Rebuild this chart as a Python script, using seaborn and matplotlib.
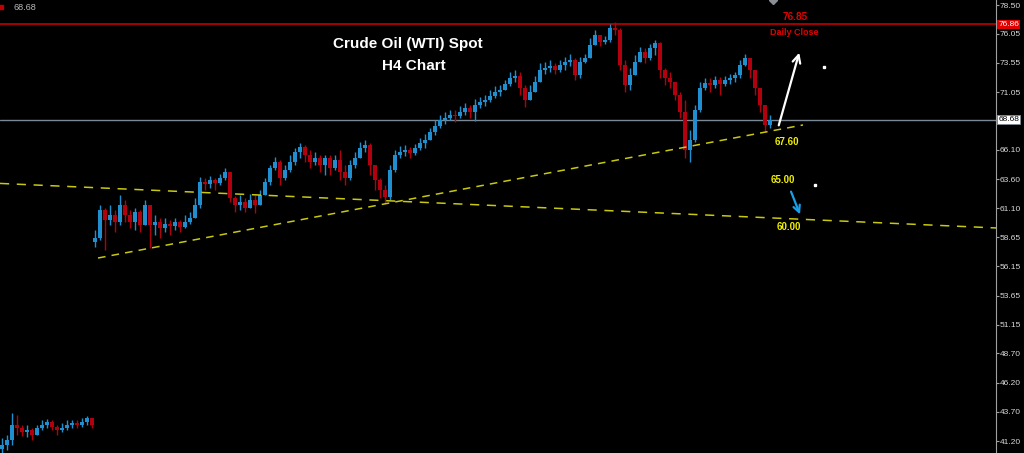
import numpy as np
import pandas as pd
import matplotlib
matplotlib.use("Agg")
import matplotlib.pyplot as plt
import seaborn as sns

# ---------------- data ----------------
main_open0 = 58.20
main_close = [58.57, 60.96, 60.11, 60.54, 59.94, 61.39, 60.54, 59.94, 60.79, 59.68,
              61.39, 59.68, 59.94, 59.43, 59.77, 59.60, 59.94, 59.51, 59.94, 60.28,
              61.39, 63.36, 63.19, 63.53, 63.27, 63.70, 64.22, 61.99, 61.39, 61.65,
              61.14, 61.82, 61.39, 62.25, 63.36, 64.56, 65.07, 63.70, 64.39, 65.07,
              65.93, 66.35, 65.67, 65.07, 65.41, 64.81, 65.41, 64.56, 65.24, 64.22,
              63.70, 64.81, 65.41, 66.27, 66.53, 64.81, 63.53, 62.68, 62.08, 64.39,
              65.67, 65.93, 66.10, 65.84, 66.27, 66.70, 66.95, 67.64, 68.15, 68.66,
              68.84, 69.09, 69.01, 69.35, 69.69, 69.35, 69.95, 70.20, 70.37, 70.72,
              71.06, 71.23, 71.74, 72.26, 72.43, 71.40, 70.37, 71.06, 71.92, 72.94,
              73.11, 73.28, 72.94, 73.37, 73.63, 73.80, 72.51, 73.63, 73.97, 75.08,
              75.94, 75.34, 75.51, 76.53, 76.36, 73.37, 71.66, 72.51, 73.63, 74.48,
              73.97, 74.82, 75.25, 72.94, 72.26, 71.92, 70.80, 69.35, 66.10, 66.95,
              69.52, 71.40, 71.83, 71.66, 72.09, 71.74, 72.09, 72.26, 72.51, 73.37,
              73.97, 72.94, 71.40, 69.95, 68.24, 68.66]
main_high = [59.25, 61.39, 61.14, 61.39, 60.96, 62.25, 61.82, 60.96, 61.14, 60.96,
             61.82, 61.39, 60.54, 60.28, 60.28, 60.11, 60.28, 60.11, 60.54, 60.79,
             61.99, 63.79, 63.70, 63.87, 63.70, 64.04, 64.56, 63.96, 62.16, 62.25,
             61.99, 62.33, 62.25, 62.68, 63.70, 64.81, 65.50, 65.24, 64.81, 65.67,
             66.27, 66.70, 66.53, 66.10, 65.93, 65.67, 65.67, 65.67, 65.67, 66.10,
             64.81, 65.24, 65.93, 66.78, 66.95, 66.70, 64.81, 63.70, 63.10, 64.81,
             66.10, 66.44, 66.53, 66.35, 66.61, 67.12, 67.47, 67.98, 68.66, 69.09,
             69.35, 69.52, 69.52, 69.86, 70.12, 69.95, 70.46, 70.63, 70.80, 71.23,
             71.57, 71.66, 72.09, 72.77, 72.94, 72.77, 71.66, 71.66, 72.43, 73.54,
             73.63, 73.80, 73.54, 73.80, 74.05, 74.31, 73.97, 74.05, 74.31, 75.68,
             76.36, 75.85, 75.85, 76.88, 77.05, 76.53, 73.80, 73.11, 74.22, 74.91,
             74.82, 75.17, 75.51, 75.34, 73.11, 72.77, 71.66, 71.06, 70.37, 67.81,
             69.95, 71.92, 72.26, 72.26, 72.43, 72.34, 72.43, 72.60, 72.77, 73.80,
             74.31, 73.97, 72.94, 71.40, 69.69, 69.09]
main_low = [57.80, 58.40, 57.54, 59.68, 59.08, 59.68, 59.94, 59.43, 59.25, 59.08,
            59.68, 57.71, 58.83, 58.57, 59.08, 58.83, 59.25, 59.08, 59.43, 59.77,
            60.54, 61.14, 62.68, 62.85, 62.68, 63.10, 63.53, 61.65, 60.79, 60.96,
            60.79, 61.31, 60.71, 61.82, 62.50, 63.10, 64.39, 63.10, 63.53, 64.22,
            64.81, 65.41, 65.07, 64.56, 64.81, 64.22, 63.96, 63.96, 64.39, 63.53,
            63.10, 63.53, 64.56, 65.41, 65.93, 63.96, 62.68, 61.99, 61.56, 61.82,
            64.22, 65.41, 65.58, 65.41, 65.67, 66.10, 66.27, 66.95, 67.38, 67.98,
            68.32, 68.66, 68.49, 68.84, 69.09, 68.84, 68.58, 69.69, 69.86, 70.20,
            70.55, 70.72, 71.23, 71.57, 71.92, 70.80, 69.78, 70.37, 71.23, 72.26,
            72.60, 72.77, 72.60, 72.77, 72.94, 73.28, 72.09, 72.26, 73.54, 73.97,
            75.08, 75.00, 75.17, 75.34, 75.94, 72.94, 71.06, 71.23, 72.77, 73.63,
            73.54, 73.80, 74.22, 72.26, 71.66, 71.40, 70.37, 68.84, 65.41, 65.07,
            66.78, 69.35, 71.23, 71.06, 71.40, 70.80, 71.57, 71.74, 71.92, 72.26,
            73.28, 72.26, 70.80, 69.35, 67.64, 67.98]

mini_open0 = 40.50
mini_close = [40.86, 41.29, 42.57, 42.31, 41.97, 42.14, 41.71, 42.31, 42.57, 42.83,
              42.40, 42.14, 42.31, 42.57, 42.74, 42.57, 42.83, 43.17, 42.57]
mini_high = [41.46, 41.71, 43.60, 43.43, 42.57, 42.57, 42.31, 42.57, 43.00, 43.08,
             43.00, 42.57, 42.74, 43.00, 43.00, 43.00, 43.17, 43.34, 43.17]
mini_low = [40.17, 40.43, 40.86, 41.71, 41.63, 41.54, 41.29, 41.97, 42.14, 42.31,
            42.14, 41.71, 41.97, 42.14, 42.31, 42.31, 42.40, 42.57, 42.31]

y_ticks = [78.50, 76.05, 73.55, 71.05, 66.10, 63.60, 61.10, 58.65, 56.15,
           53.65, 51.15, 48.70, 46.20, 43.70, 41.20]
daily_close_level = 76.86
current_price = 68.68

trend_up_x = [19.6, 160.6]
trend_up_y = [56.86, 68.24]
trend_down_x = [0.0, 199.2]
trend_down_y = [63.24, 59.43]

# ---------------- style ----------------
sns.set_theme(style="dark", rc={
    "axes.facecolor": "black", "figure.facecolor": "black",
    "axes.grid": False, "axes.edgecolor": "#a0a0a0",
})
plt.rcParams["font.family"] = ["Liberation Sans", "DejaVu Sans"]

BULL = "#1f8fcf"
BEAR = "#b3000f"
YEL = "#c8c810"

fig = plt.figure(figsize=(10.24, 4.53), dpi=100)
ax = fig.add_axes([0, 0, 996 / 1024, 1])
ax.set_facecolor("black")


def draw_candles(ax, pos, open0, close, high, low, width=0.62):
    close = np.asarray(close)
    opens = np.concatenate([[open0], close[:-1]])
    high = np.maximum(np.asarray(high), np.maximum(opens, close))
    low = np.minimum(np.asarray(low), np.minimum(opens, close))
    cols = [BULL if c >= o else BEAR for o, c in zip(opens, close)]
    ax.vlines(pos, low, high, colors=cols, lw=1.0, zorder=3)
    bottoms = np.minimum(opens, close)
    heights = np.maximum(np.abs(close - opens), 0.06)
    ax.bar(pos, heights, bottom=bottoms, width=width, color=cols,
           linewidth=0, zorder=4)


main_pos = 19 + np.arange(len(main_close))
mini_pos = 0.4 + np.arange(len(mini_close))
draw_candles(ax, main_pos, main_open0, main_close, main_high, main_low)
draw_candles(ax, mini_pos, mini_open0, mini_close, mini_high, mini_low)

# horizontal levels
ax.axhline(daily_close_level, color="#c00000", lw=1.2, zorder=2)
ax.axhline(current_price, color="#7c8894", lw=1.0, zorder=2)

# trend lines
tl = pd.DataFrame({"x": trend_up_x, "y": trend_up_y})
td = pd.DataFrame({"x": trend_down_x, "y": trend_down_y})
sns.lineplot(data=tl, x="x", y="y", ax=ax, color=YEL, lw=1.1,
             linestyle=(0, (5, 4)), zorder=5)
sns.lineplot(data=td, x="x", y="y", ax=ax, color=YEL, lw=1.1,
             linestyle=(0, (6, 5)), zorder=5)
ax.set_xlabel("")
ax.set_ylabel("")

# arrows
ax.annotate("", xy=(160.0, 74.65), xytext=(155.6, 67.98),
            arrowprops=dict(arrowstyle="->", color="white", lw=1.6,
                            mutation_scale=14), zorder=6)
ax.annotate("", xy=(160.2, 60.37), xytext=(158.0, 62.76),
            arrowprops=dict(arrowstyle="->", color="#1aa0e8", lw=1.6,
                            mutation_scale=12), zorder=6)

# small dots
ax.plot([164.8, 163.0], [73.20, 63.10], ls="none", marker="s", ms=2,
        color="white", zorder=6)
ax.plot([154.6], [78.93], ls="none", marker="D", ms=4.5, color="#8a8f96",
        clip_on=True, zorder=6)

# texts
ax.text(81.5, 75.17, "Crude Oil (WTI) Spot", color="white", fontsize=11,
        fontweight="bold", ha="center", va="center")
ax.text(82.8, 73.28, "H4 Chart", color="white", fontsize=11,
        fontweight="bold", ha="center", va="center")
ax.text(159.0, 77.48, "76.85", color="#e00000", fontsize=7.2,
        fontweight="bold", ha="center", va="center")
ax.text(158.8, 76.19, "Daily Close", color="#e00000", fontsize=6.5,
        fontweight="bold", ha="center", va="center")
for xv, yv, s in [(157.4, 66.78, "67.60"), (156.6, 63.53, "65.00"),
                  (157.8, 59.51, "60.00")]:
    ax.text(xv, yv, s, color="#f0f000", fontsize=7, fontweight="bold",
            ha="center", va="center")

ax.text(0.014, 0.984, "68.68", color="#b8b8b8", fontsize=6.6,
        transform=ax.transAxes, ha="left", va="center")
ax.plot([0.0015], [0.984], marker="s", ms=2.5, color="#c00000",
        transform=ax.transAxes, clip_on=False)

# axes
ax.set_xlim(0, 199.2)
ax.set_ylim(40.18, 78.93)
ax.set_xticks([])
ax.yaxis.tick_right()
ax.set_yticks(y_ticks)
ax.set_yticklabels([f"{v:.2f}" for v in y_ticks])
ax.tick_params(axis="y", colors="#a0a0a0", labelcolor="#d8d8d8",
               labelsize=6.0, length=2, width=0.8, pad=0.8, direction="out")
for s in ["left", "top", "bottom"]:
    ax.spines[s].set_visible(False)
ax.spines["right"].set_color("#a0a0a0")
ax.spines["right"].set_linewidth(0.8)

# price boxes on the axis
ax.text(1.0025, daily_close_level, f"{daily_close_level:.2f}", color="white",
        fontsize=6.0, ha="left", va="center",
        transform=ax.get_yaxis_transform(),
        bbox=dict(boxstyle="square,pad=0.12", fc="#e00000", ec="none"))
ax.text(1.0025, current_price, f"{current_price:.2f}", color="black",
        fontsize=6.0, ha="left", va="center",
        transform=ax.get_yaxis_transform(),
        bbox=dict(boxstyle="square,pad=0.12", fc="white", ec="#7c8894", lw=0.6))

fig.savefig("out.png", dpi=100, facecolor="black")
